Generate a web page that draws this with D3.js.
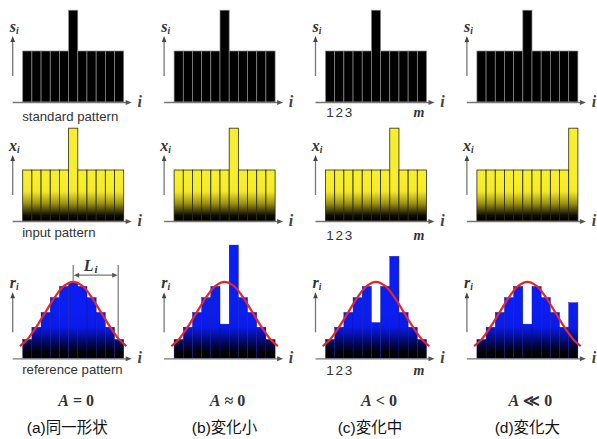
<!DOCTYPE html>
<html><head><meta charset="utf-8">
<script src="https://cdn.jsdelivr.net/npm/d3@7"></script>
<style>body{margin:0;background:#fff}svg{display:block}</style>
</head><body>
<script>
// ---------- data ----------
const barIndex = [1,2,3,4,5,6,7,8,9,10,11];
const standardPattern = [1,1,1,1,1,1.8,1,1,1,1,1];
const inputA = [1,1,1,1,1,1.82,1,1,1,1,1];
const inputB = [1,1,1,1,1,1,1.82,1,1,1,1];
const inputC = [1,1,1,1,1,1,1,1.82,1,1,1];
const inputD = [1,1,1,1,1,1,1,1,1,1,1.82];
const referenceA = [0.37,0.61,0.90,1.19,1.41,1.49,1.41,1.19,0.90,0.61,0.37];
const referenceB = [0.37,0.61,0.90,1.19,1.41,0.67,2.22,1.19,0.90,0.61,0.37];
const referenceC = [0.37,0.61,0.90,1.19,1.41,0.70,1.41,2.00,0.90,0.61,0.37];
const referenceD = [0.37,0.61,0.90,1.19,1.41,0.67,1.41,1.19,0.90,0.61,1.09];
const curveT = [-0.3,0.5,1.5,2.5,3.5,4.5,5.5,6.5,7.5,8.5,9.5,10.5,11.3];
const curveV = [0.24,0.37,0.62,0.91,1.20,1.42,1.50,1.42,1.20,0.91,0.62,0.37,0.24];
const spanL = [5.5, 10.4];           // L_i bracket, in bar units
const rowSymbols = ["s","x","r"];
const rowNames = ["standard pattern","input pattern","reference pattern"];
const tickLabels = ["1","2","3"];
const lastTick = "m";
const conditions = ["=","≈","<","≪"];
const captions = ["(a)同一形状","(b)変化小","(c)変化中","(d)変化大"];

const inputs = [inputA,inputB,inputC,inputD];
const references = [referenceA,referenceB,referenceC,referenceD];

// ---------- layout ----------
const W = 597, H = 439;
const baselines = [102, 221, 358.3];
const unit = 51, span = 101;
const colX0 = c => 22.7 + c*151.4;
const serif = "'Liberation Serif','DejaVu Serif',serif";
const sans = "'Liberation Sans',Arial,'Noto Sans CJK JP',sans-serif";

const svg = d3.select("body").append("svg").attr("width",W).attr("height",H);
const defs = svg.append("defs");

function grad(id, b, h, stops){
  const g = defs.append("linearGradient").attr("id",id)
    .attr("gradientUnits","userSpaceOnUse")
    .attr("x1",0).attr("x2",0).attr("y1",b-h).attr("y2",b);
  stops.forEach(s=>g.append("stop").attr("offset",s[0]).attr("stop-color",s[1]));
}
grad("gy", baselines[1], 45, [[0,"#f7ef2e"],[0.34,"#f5ea28"],[0.6,"#a09516"],[0.88,"#0c0a00"],[1,"#000"]]);
grad("gb", baselines[2], 50, [[0,"#0b1ef2"],[0.38,"#0a1ae8"],[0.66,"#03096a"],[0.88,"#000"],[1,"#000"]]);

const fills = ["#000","url(#gy)","url(#gb)"];
const strokes = ["#8c8c8c","#2a2a10","#0710a0"];
const strokeW = [0.7,0.8,0.4];

for (let c=0;c<4;c++){
  const x0 = colX0(c);
  const x = d3.scaleBand().domain(barIndex).range([x0,x0+span]);
  const xc = d3.scaleLinear().domain([0,11]).range([x0,x0+span]);
  const rows = [standardPattern, inputs[c], references[c]];
  for (let r=0;r<3;r++){
    const b = baselines[r];
    const y = d3.scaleLinear().domain([0,1]).range([b,b-unit]);
    const g = svg.append("g");
    const data = barIndex.map((d,i)=>({i:d,v:rows[r][i]}));
    g.selectAll("rect").data(data).join("rect")
      .attr("x",d=>x(d.i)).attr("width",x.bandwidth())
      .attr("y",d=>y(d.v)).attr("height",d=>b-y(d.v))
      .attr("fill",fills[r]).attr("stroke",strokes[r]).attr("stroke-width",strokeW[r]);

    const ax = x0-10;
    g.append("line").attr("x1",ax).attr("x2",x0+span+3).attr("y1",b+0.5).attr("y2",b+0.5)
      .attr("stroke","#777").attr("stroke-width",1.3);
    g.append("path").attr("d",`M${x0+span+8},${b+0.5}L${x0+span+2},${b-2}L${x0+span+2},${b+3}Z`).attr("fill","#555");
    g.append("text").attr("x",x0+span+16).attr("y",b+5).attr("text-anchor","middle")
      .attr("font-family",serif).attr("font-style","italic").attr("font-weight","bold")
      .attr("font-size",16).attr("fill","#444").text("i");
    g.append("line").attr("x1",ax).attr("x2",ax).attr("y1",b-26).attr("y2",b-61)
      .attr("stroke","#777").attr("stroke-width",1.3);
    g.append("path").attr("d",`M${ax},${b-66}L${ax-2.3},${b-60}L${ax+2.3},${b-60}Z`).attr("fill","#444");
    const lab = g.append("text").attr("x",ax+1.5).attr("y",b-70).attr("text-anchor","middle")
      .attr("font-family",serif).attr("font-style","italic").attr("font-weight","bold")
      .attr("font-size",16).attr("fill","#333");
    lab.append("tspan").text(rowSymbols[r]);
    lab.append("tspan").attr("font-size",9.5).attr("dy",2).text("i");

    if (r===2){
      const line = d3.line().x(d=>xc(d[0])).y(d=>y(d[1])).curve(d3.curveCatmullRom);
      g.append("path").attr("d",line(curveT.map((t,i)=>[t,curveV[i]])))
        .attr("fill","none").attr("stroke","#e5262b").attr("stroke-width",2.2);
    }
    if (c===0){
      const off = [18.5,15.5,15.7][r];
      g.append("text").attr("x",x0-0.5).attr("y",b+off)
        .attr("font-family",sans).attr("font-size",13.2).attr("fill","#333").text(rowNames[r]);
    }
    if (c===2){
      const off = [14.5,18.5,17][r];
      g.selectAll("text.tk").data(tickLabels).join("text").attr("class","tk")
        .attr("x",(d,i)=>x(barIndex[i])+x.bandwidth()/2).attr("y",b+off).attr("text-anchor","middle")
        .attr("font-family",sans).attr("font-size",13.5).attr("fill","#333").text(d=>d);
      g.append("text").attr("x",x(barIndex[10])+x.bandwidth()/2-3).attr("y",b+off).attr("text-anchor","middle")
        .attr("font-family",serif).attr("font-style","italic").attr("font-weight","bold")
        .attr("font-size",14).attr("fill","#333").text(lastTick);
    }
    if (c===0 && r===2){
      const yTop = y(1.83), yLev = y(1.63);
      const xa = xc(spanL[0]), xb = xc(spanL[1]);
      const interp = d3.scaleLinear().domain(curveT).range(curveV);
      g.append("line").attr("x1",xa).attr("x2",xa).attr("y1",yTop).attr("y2",y(1.49))
        .attr("stroke","#777").attr("stroke-width",1.2);
      g.append("line").attr("x1",xb).attr("x2",xb).attr("y1",yTop).attr("y2",y(interp(spanL[1])))
        .attr("stroke","#777").attr("stroke-width",1.2);
      g.append("line").attr("x1",xa+4).attr("x2",xb-4).attr("y1",yLev).attr("y2",yLev)
        .attr("stroke","#777").attr("stroke-width",1.2);
      g.append("path").attr("d",`M${xa+0.6},${yLev}L${xa+6},${yLev-2.5}L${xa+6},${yLev+2.5}Z`).attr("fill","#555");
      g.append("path").attr("d",`M${xb-0.6},${yLev}L${xb-6},${yLev-2.5}L${xb-6},${yLev+2.5}Z`).attr("fill","#555");
      const lt = g.append("text").attr("x",(xa+xb)/2-5).attr("y",yLev-4).attr("text-anchor","middle")
        .attr("font-family",serif).attr("font-style","italic").attr("font-weight","bold")
        .attr("font-size",16).attr("fill","#333");
      lt.append("tspan").text("L");
      lt.append("tspan").attr("font-size",11).attr("dy",2).attr("dx",1).text("i");
    }
  }
  const cx = x0 + span/2;
  const ct = svg.append("text").attr("x",cx+3).attr("y",406).attr("text-anchor","middle")
    .attr("font-family",serif).attr("font-weight","bold").attr("font-size",16).attr("fill","#333");
  ct.append("tspan").attr("font-style","italic").text("A");
  ct.append("tspan").text(" "+conditions[c]+" 0");
  svg.append("text").attr("x",cx+[-6,0,-6,0][c]).attr("y",433).attr("text-anchor","middle")
    .attr("font-family",sans).attr("font-size",15.5).attr("fill","#111").text(captions[c]);
}
</script>
</body></html>
